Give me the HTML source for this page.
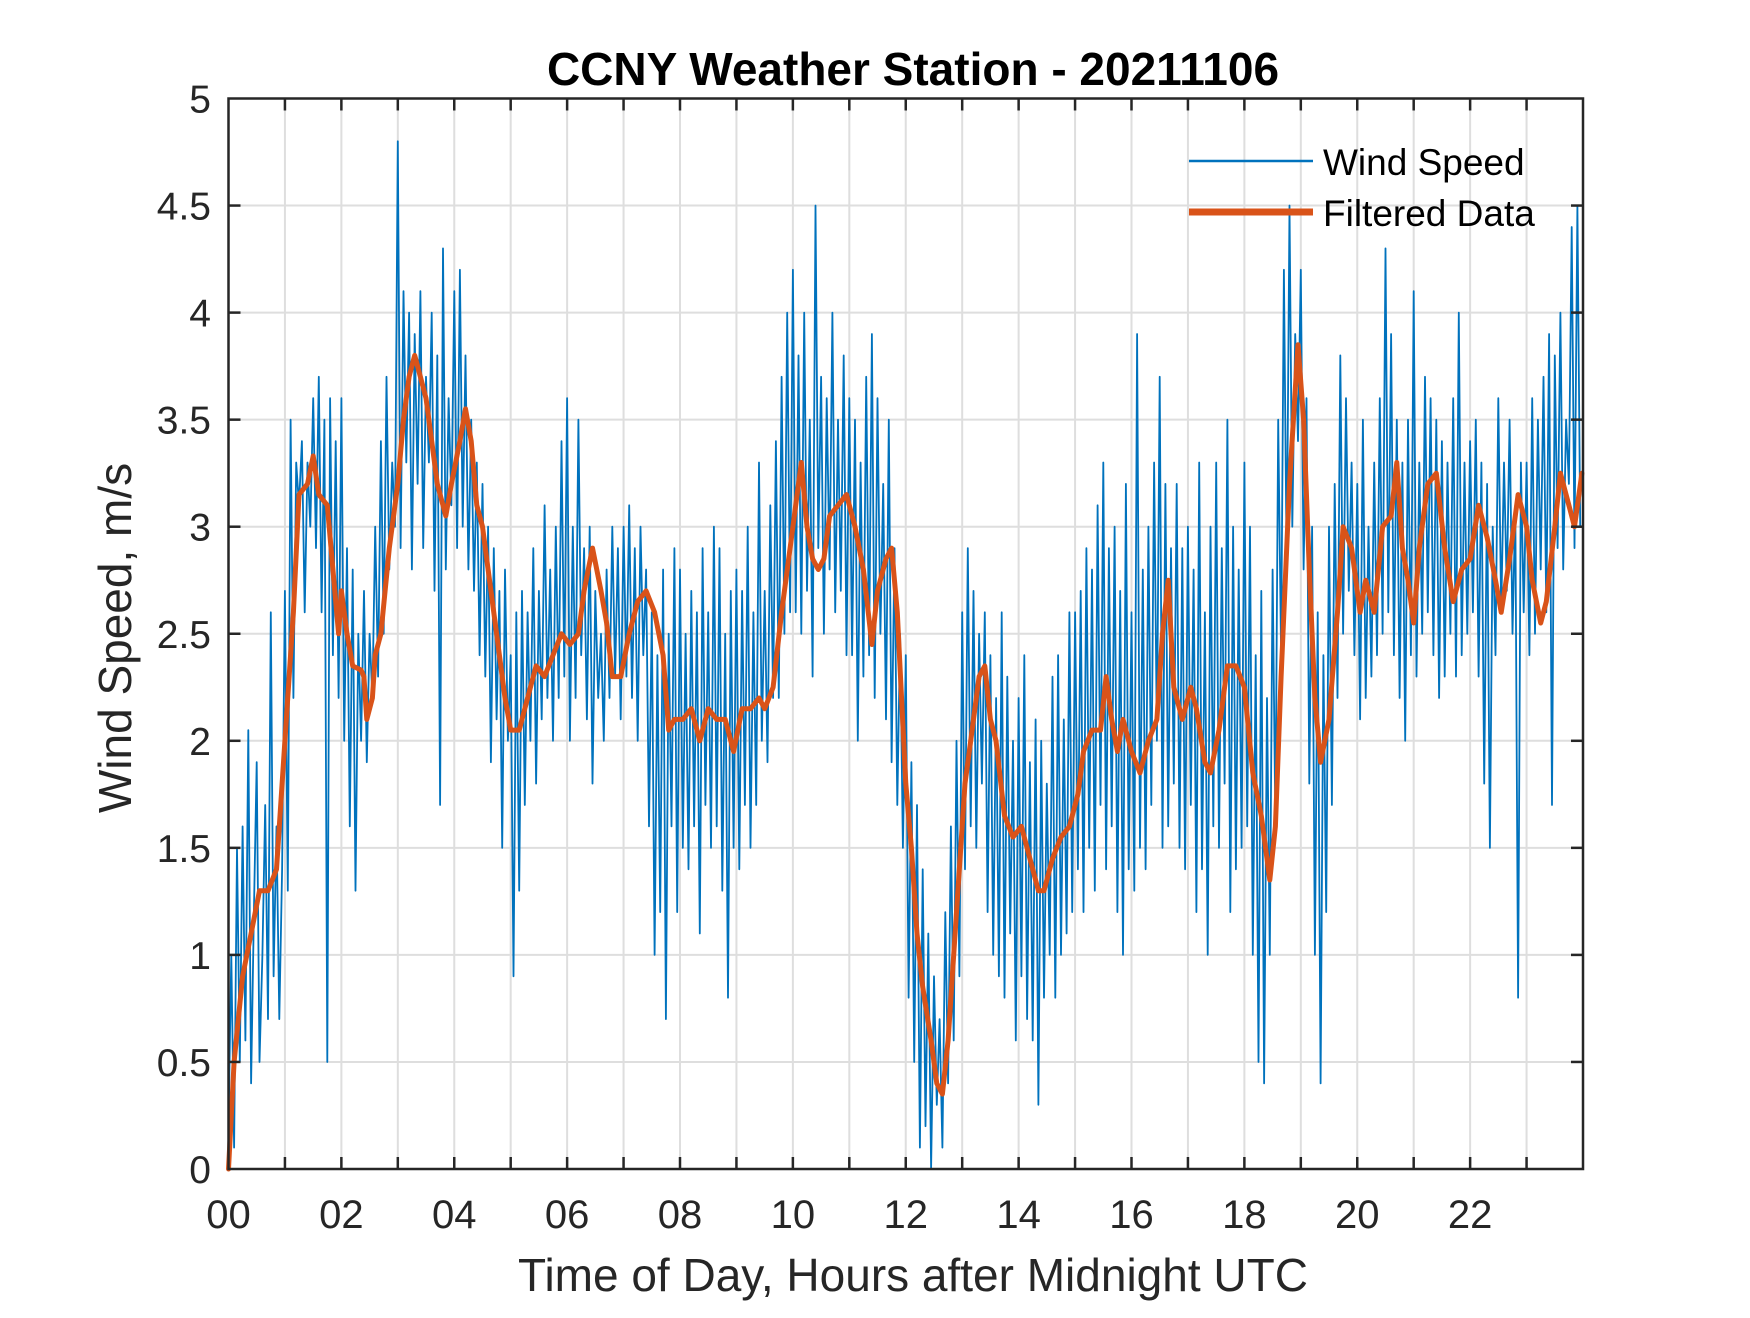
<!DOCTYPE html>
<html><head><meta charset="utf-8"><style>
html,body{margin:0;padding:0;background:#fff;}
svg text{font-family:"Liberation Sans",Arial,sans-serif;}
</style></head><body>
<svg id="chart" width="1750" height="1313" viewBox="0 0 1750 1313" xmlns="http://www.w3.org/2000/svg">
<rect width="1750" height="1313" fill="#fff"/>
<g id="grid"></g>
<g id="series"></g>
<g id="axes"></g>
<text x="913" y="85" text-anchor="middle" font-size="46" font-weight="bold" fill="#000">CCNY Weather Station - 20211106</text>
<text x="913" y="1291" text-anchor="middle" font-size="46" fill="#262626">Time of Day, Hours after Midnight UTC</text>
<text transform="translate(131,638) rotate(-90)" text-anchor="middle" font-size="46" fill="#262626">Wind Speed, m/s</text>
<g id="legend">
<line x1="1189" y1="161" x2="1313" y2="161" stroke="#0072BD" stroke-width="2.5"/>
<text x="1323" y="175" font-size="37" fill="#000">Wind Speed</text>
<line x1="1189" y1="212" x2="1313" y2="212" stroke="#D95319" stroke-width="7"/>
<text x="1323" y="226" font-size="37" fill="#000">Filtered Data</text>
</g>
</svg>
<script>
const xTickLabels = ["00","02","04","06","08","10","12","14","16","18","20","22"];
const yTickLabels = ["0","0.5","1","1.5","2","2.5","3","3.5","4","4.5","5"];
const windStep = 0.05;
const windSpeed = [
0.2,1.0,0.1,1.5,0.5,1.6,0.6,2.05,0.4,1.2,1.9,0.5,1.0,1.7,0.7,2.6,0.9,1.6,0.7,1.4,
2.7,1.3,3.5,2.2,3.3,3.1,3.4,2.6,3.3,3.0,3.6,2.9,3.7,2.6,3.5,0.5,3.6,2.4,3.4,2.2,
3.6,2.0,2.9,1.6,2.8,1.3,2.5,2.0,2.7,1.9,2.5,2.2,3.0,2.3,3.4,2.5,3.7,2.8,3.3,3.0,
4.8,2.9,4.1,3.3,4.0,2.8,3.9,3.2,4.1,2.9,3.7,3.3,4.0,2.7,3.8,1.7,4.3,2.8,3.6,3.1,
4.1,2.9,4.2,3.0,3.8,2.8,3.5,2.7,3.3,2.4,3.2,2.3,3.0,1.9,2.9,2.1,2.7,1.5,2.8,2.0,
2.4,0.9,2.6,1.3,2.7,1.7,2.6,2.0,2.9,1.8,2.7,2.1,3.1,2.2,2.8,2.0,3.0,2.2,3.4,2.3,
3.6,2.0,3.0,2.2,3.5,2.4,2.9,2.1,3.0,1.8,2.7,2.2,2.5,2.0,2.8,2.2,3.0,2.3,2.9,2.1,
3.0,2.3,3.1,2.2,2.9,2.0,3.0,2.4,2.8,1.6,2.6,1.0,2.4,1.2,2.8,0.7,2.5,1.6,2.9,1.2,
2.8,1.5,2.5,1.4,2.7,1.6,2.6,1.1,2.9,1.7,2.6,1.5,3.0,1.6,2.9,1.3,2.5,0.8,2.7,1.5,
2.8,1.4,2.7,1.7,3.0,1.5,2.6,1.7,3.3,2.0,2.7,1.9,3.1,2.2,3.4,2.2,3.7,2.5,4.0,2.6,
4.2,2.6,3.8,2.5,4.0,2.7,3.5,2.3,4.5,2.9,3.7,2.5,3.6,2.8,4.0,2.6,3.5,2.7,3.8,2.4,
3.6,2.4,3.5,2.0,3.3,2.3,3.7,2.4,3.9,2.2,3.6,2.5,3.2,2.1,3.5,1.9,2.9,1.7,2.5,1.5,
2.4,0.8,1.9,0.5,1.7,0.1,1.4,0.2,1.1,0.0,0.9,0.3,0.7,0.1,1.2,0.4,1.6,0.6,2.0,0.9,
2.6,1.4,2.9,1.6,2.7,1.5,2.5,1.8,2.6,1.2,2.4,1.0,2.2,0.9,2.6,0.8,2.3,1.1,2.0,0.6,
2.2,0.9,2.4,0.7,1.9,0.6,2.1,0.3,2.0,0.8,1.8,1.0,2.3,0.8,2.4,1.0,2.1,1.1,2.6,1.2,
2.6,1.4,2.7,1.2,2.9,1.5,2.8,1.3,3.1,1.7,3.3,1.4,2.9,1.6,3.0,1.2,2.7,1.0,3.2,1.4,
2.6,1.3,3.9,1.5,2.8,1.4,3.0,1.7,3.3,2.0,3.7,1.5,3.2,1.6,2.9,1.8,3.2,1.5,2.9,1.4,
3.0,1.7,2.8,1.2,3.3,1.4,2.6,1.0,3.0,1.6,3.3,1.5,2.9,1.8,3.5,1.2,3.0,1.4,2.8,1.5,
3.3,1.6,3.0,1.0,2.4,0.5,2.7,0.4,2.2,1.0,2.8,1.6,3.5,2.4,4.2,2.8,4.5,3.0,3.9,3.4,
4.2,2.8,3.6,1.8,3.0,1.0,2.6,0.4,2.4,1.2,3.0,1.7,3.2,2.2,3.8,2.5,3.6,2.7,3.3,2.4,
3.2,2.1,3.5,2.2,3.0,2.3,3.3,2.4,3.6,2.5,4.3,2.6,3.9,2.4,3.5,2.2,3.3,2.0,3.5,2.4,
4.1,2.3,3.3,2.5,3.7,2.6,3.6,2.4,3.5,2.2,3.4,2.3,3.3,2.5,3.6,2.3,4.0,2.4,3.3,2.5,
3.4,2.6,3.5,2.3,3.3,1.8,3.2,1.5,3.0,2.4,3.6,2.6,3.3,2.7,3.5,2.5,3.1,0.8,3.3,2.6,
3.3,2.4,3.6,2.5,3.5,2.8,3.7,2.6,3.9,1.7,3.8,2.9,4.0,2.8,3.5,3.2,4.4,2.9,4.5,3.0
];
const filteredHours = [0,0.1,0.25,0.4,0.55,0.7,0.85,1.0,1.15,1.25,1.4,1.5,1.6,1.75,1.85,1.95,2.0,2.1,2.2,2.35,2.4,2.45,2.55,2.6,2.7,2.85,3.0,3.1,3.2,3.3,3.4,3.5,3.6,3.7,3.85,3.95,4.1,4.2,4.3,4.4,4.5,4.6,4.75,4.9,5.0,5.15,5.3,5.45,5.6,5.75,5.9,6.05,6.2,6.3,6.45,6.6,6.7,6.8,6.95,7.1,7.25,7.4,7.55,7.7,7.8,7.9,8.05,8.2,8.35,8.5,8.65,8.8,8.95,9.1,9.25,9.4,9.5,9.65,9.8,9.95,10.05,10.15,10.25,10.35,10.45,10.55,10.65,10.8,10.95,11.1,11.25,11.4,11.5,11.65,11.75,11.85,12.0,12.1,12.2,12.3,12.45,12.55,12.65,12.75,12.9,13.05,13.15,13.3,13.4,13.5,13.6,13.75,13.9,14.05,14.2,14.35,14.45,14.6,14.75,14.9,15.05,15.15,15.3,15.45,15.55,15.65,15.75,15.85,16.0,16.15,16.3,16.45,16.55,16.65,16.75,16.9,17.05,17.15,17.3,17.4,17.55,17.7,17.85,18.0,18.15,18.3,18.45,18.55,18.65,18.8,18.95,19.05,19.15,19.25,19.35,19.5,19.65,19.75,19.9,20.05,20.15,20.3,20.45,20.6,20.7,20.8,20.9,21.0,21.1,21.25,21.4,21.55,21.7,21.85,22.0,22.15,22.3,22.45,22.55,22.7,22.85,23.0,23.1,23.25,23.35,23.5,23.6,23.75,23.85,23.98];
const filteredValues = [0,0.5,0.9,1.1,1.3,1.3,1.4,2.0,2.6,3.15,3.2,3.33,3.15,3.1,2.8,2.5,2.7,2.5,2.35,2.33,2.3,2.1,2.2,2.4,2.5,2.9,3.2,3.5,3.7,3.8,3.7,3.6,3.4,3.2,3.05,3.2,3.4,3.55,3.4,3.1,3.0,2.8,2.5,2.2,2.05,2.05,2.2,2.35,2.3,2.4,2.5,2.45,2.5,2.7,2.9,2.7,2.55,2.3,2.3,2.5,2.65,2.7,2.6,2.4,2.05,2.1,2.1,2.15,2.0,2.15,2.1,2.1,1.95,2.15,2.15,2.2,2.15,2.25,2.6,2.9,3.1,3.3,3.0,2.85,2.8,2.85,3.05,3.1,3.15,3.0,2.8,2.45,2.7,2.85,2.9,2.6,1.8,1.5,1.1,0.85,0.6,0.4,0.35,0.6,1.2,1.8,2.0,2.3,2.35,2.1,2.0,1.65,1.55,1.6,1.45,1.3,1.3,1.45,1.55,1.6,1.75,1.95,2.05,2.05,2.3,2.1,1.95,2.1,1.95,1.85,2.0,2.1,2.5,2.75,2.25,2.1,2.25,2.15,1.9,1.85,2.05,2.35,2.35,2.25,1.85,1.65,1.35,1.6,2.3,3.2,3.85,3.5,2.8,2.2,1.9,2.1,2.6,3.0,2.9,2.6,2.75,2.6,3.0,3.05,3.3,2.9,2.75,2.55,2.9,3.2,3.25,2.9,2.65,2.8,2.85,3.1,2.95,2.75,2.6,2.85,3.15,3.0,2.75,2.55,2.65,3.0,3.25,3.1,3.0,3.25];

const NS='http://www.w3.org/2000/svg';
const X0=228.5, X1=1583, Y0=1169, Y1=98.5;
function xs(h){return X0+(h/24)*(X1-X0);}
function ys(v){return Y0-(v/5)*(Y0-Y1);}
function mk(tag,attrs,parent){const e=document.createElementNS(NS,tag);for(const k in attrs)e.setAttribute(k,attrs[k]);parent.appendChild(e);return e;}
const grid=document.getElementById('grid'), series=document.getElementById('series'), axes=document.getElementById('axes');

for(let h=1;h<24;h++){
  const g=mk('line',{x1:xs(h),x2:xs(h),y1:Y1,y2:Y0,stroke:'#dedede','stroke-width':2},grid);
  
  
}
for(let i=1;i<yTickLabels.length-1;i++){
  const v=parseFloat(yTickLabels[i]);
  const g=mk('line',{x1:X0,x2:X1,y1:ys(v),y2:ys(v),stroke:'#dedede','stroke-width':2},grid);
  
  
}

let d='';
windSpeed.forEach((v,i)=>{d+=(i?'L':'M')+xs(i*windStep).toFixed(1)+' '+ys(v).toFixed(1);});
const wl=mk('path',{d:d,fill:'none',stroke:'#0072BD','stroke-width':1.8,'stroke-linejoin':'round'},series);



let d2='';
filteredValues.forEach((v,i)=>{d2+=(i?'L':'M')+xs(filteredHours[i]).toFixed(1)+' '+ys(v).toFixed(1);});
const fl=mk('path',{d:d2,fill:'none',stroke:'#D95319','stroke-width':5,'stroke-linejoin':'round','stroke-linecap':'round'},series);



const box=mk('rect',{x:X0,y:Y1,width:X1-X0,height:Y0-Y1,fill:'none',stroke:'#262626','stroke-width':2.5},axes);


for(let h=1;h<24;h++){
  const t1=mk('line',{x1:xs(h),x2:xs(h),y1:Y0,y2:Y0-12,stroke:'#262626','stroke-width':2.5},axes);
  
  
  const t2=mk('line',{x1:xs(h),x2:xs(h),y1:Y1,y2:Y1+12,stroke:'#262626','stroke-width':2.5},axes);
  
  
}
xTickLabels.forEach((lab,i)=>{
  const t=mk('text',{x:xs(i*2),y:1228,'text-anchor':'middle','font-size':40,fill:'#262626'},axes);
  t.textContent=lab;
  
  
});
yTickLabels.forEach(lab=>{
  const v=parseFloat(lab);
  const t=mk('text',{x:211,y:ys(v)+14,'text-anchor':'end','font-size':39,fill:'#262626'},axes);
  t.textContent=lab;
  
  
  if(v>0&&v<5){
    const a=mk('line',{x1:X0,x2:X0+12,y1:ys(v),y2:ys(v),stroke:'#262626','stroke-width':2.5},axes);
    
    
    const b=mk('line',{x1:X1,x2:X1-12,y1:ys(v),y2:ys(v),stroke:'#262626','stroke-width':2.5},axes);
    
    
  }
});
</script>
</body></html>
